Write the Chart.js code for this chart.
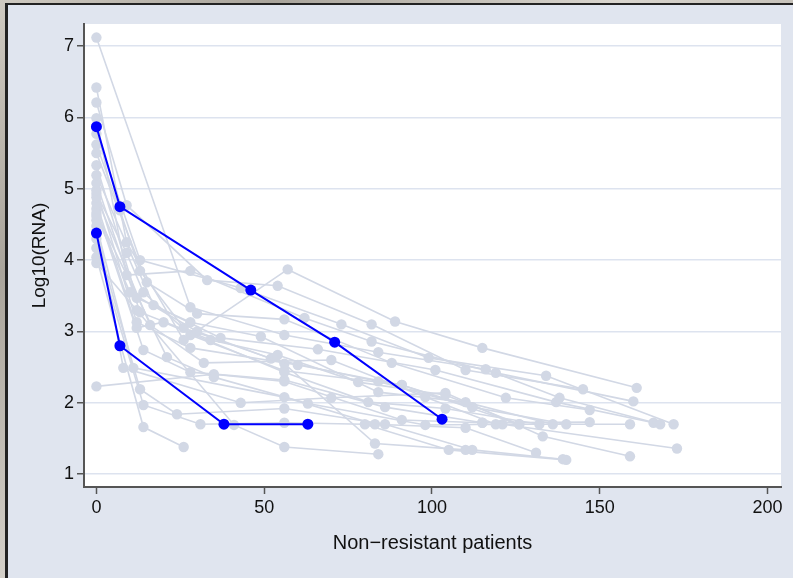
<!DOCTYPE html>
<html>
<head>
<meta charset="utf-8">
<script src="https://cdn.jsdelivr.net/npm/chart.js@4/dist/chart.umd.min.js"></script>
<style>
    html, body { margin: 0; padding: 0; }
    body {
        width: 793px; height: 578px; overflow: hidden; position: relative;
        background: linear-gradient(135deg, #cfcac1 0%, #a9a49b 20%, #d9d5ce 45%, #b5b0a7 70%, #d2cec6 100%);
    }
    #panel {
        position: absolute; left: 5px; top: 3px; right: 0; bottom: 0;
        background: #e0e5ef;
        border-left: 3px solid #222;
        border-top: 2px solid #222;
    }
    #chart { position: absolute; left: 0; top: 0; }
</style>
</head>
<body>
<div id="panel"></div>
<canvas id="chart" width="793" height="578"></canvas>
<script>
// tick labels
const xTicks = [0, 50, 100, 150, 200];
const yTicks = [1, 2, 3, 4, 5, 6, 7];

// grey patients: [days, log10 RNA]
const p01 = [[0, 7.12], [28, 3.34], [56, 2.95], [84, 2.71], [116, 2.47], [138, 2.07], [168, 1.70]];
const p02 = [[0, 6.42], [9, 4.25], [26, 2.88], [57, 3.87], [89, 3.14], [115, 2.77], [161, 2.21]];
const p03 = [[0, 6.21], [9, 4.77], [33, 3.72], [54, 3.64], [82, 3.10], [110, 2.46], [145, 2.19]];
const p04 = [[0, 5.99], [9, 3.79], [28, 3.85], [62, 3.19], [82, 2.86], [119, 2.42], [160, 2.02]];
const p05 = [[0, 5.77], [13, 4.00], [43, 3.61], [73, 3.10], [99, 2.63], [134, 2.38], [172, 1.70]];
const p06 = [[0, 5.50], [15, 3.69], [30, 3.25], [56, 3.17], [88, 2.56], [122, 2.07], [147, 1.90]];
const p07 = [[0, 5.33], [12, 3.47], [28, 3.13], [49, 2.93], [84, 2.15], [110, 2.01], [136, 1.70]];
const p08 = [[0, 5.19], [17, 3.37], [37, 2.91], [66, 2.75], [101, 2.46], [137, 2.01], [166, 1.72]];
const p09 = [[0, 5.08], [13, 3.27], [34, 2.88], [54, 2.67], [78, 2.29], [104, 2.11], [126, 1.70]];
const p10 = [[0, 4.98], [12, 3.13], [28, 2.77], [60, 2.53], [91, 2.25], [112, 1.94], [140, 1.70]];
const p11 = [[0, 4.88], [16, 3.09], [32, 2.56], [70, 2.60], [98, 2.08], [119, 1.70], [159, 1.70]];
const p12 = [[0, 4.80], [12, 3.05], [20, 3.13], [56, 2.43], [81, 2.01], [104, 1.92], [132, 1.70]];
const p13 = [[0, 4.72], [14, 2.74], [28, 2.43], [56, 2.32], [86, 1.94], [115, 1.72], [147, 1.73]];
const p14 = [[0, 4.66], [21, 2.64], [35, 2.36], [63, 1.99], [98, 1.69], [121, 1.70], [173, 1.36]];
const p15 = [[0, 4.56], [8, 2.49], [43, 2.00], [70, 2.07], [104, 2.14], [133, 1.53], [159, 1.25]];
const p16 = [[0, 4.48], [11, 2.49], [56, 2.08], [83, 1.70], [110, 1.65], [131, 1.30]];
const p17 = [[0, 4.30], [13, 2.19], [24, 1.84], [56, 1.92], [86, 1.70], [112, 1.34], [139, 1.21]];
const p18 = [[0, 4.17], [14, 1.97], [31, 1.70], [56, 1.72], [80, 1.70], [105, 1.34], [140, 1.20]];
const p19 = [[0, 4.04], [14, 1.66], [26, 1.38]];
const p20 = [[0, 3.96], [12, 3.30], [41, 1.69], [56, 1.38], [84, 1.28]];
const p21 = [[0, 2.23], [35, 2.40], [56, 2.30], [91, 1.76], [115, 1.72]];
const p22 = [[0, 4.62], [10, 3.55], [30, 3.00], [56, 2.55], [83, 1.43], [110, 1.34]];
const p23 = [[0, 5.62], [7, 4.70], [13, 3.85], [26, 3.05], [52, 2.62], [84, 2.30], [112, 1.94]];
const p24 = [[0, 4.93], [9, 4.10], [14, 3.55], [28, 2.95], [56, 2.45], [91, 2.25], [126, 1.70]];

// highlighted patients
const hiA = [[0, 5.87], [7, 4.75], [46, 3.58], [71, 2.85], [103, 1.77]];
const hiB = [[0, 4.38], [7, 2.80], [38, 1.70], [63, 1.70]];

const greyPatients = [p01, p02, p03, p04, p05, p06, p07, p08, p09, p10, p11, p12,
    p13, p14, p15, p16, p17, p18, p19, p20, p21, p22, p23, p24];
const bluePatients = [hiA, hiB];

const GREY = "#d2d8e5";
const BLUE = "#0000ff";
const FONT = "'Liberation Sans', Arial, sans-serif";

let toXY = pts => pts.map(p => ({x: p[0], y: p[1]}));

let datasets = [];
greyPatients.forEach(pts => {
    datasets.push({
        data: toXY(pts),
        showLine: true,
        borderColor: GREY,
        backgroundColor: GREY,
        borderWidth: 1.6,
        pointRadius: 5.2,
        pointBorderWidth: 0,
        order: 1
    });
});
bluePatients.forEach(pts => {
    datasets.push({
        data: toXY(pts),
        showLine: true,
        borderColor: BLUE,
        backgroundColor: BLUE,
        borderWidth: 2,
        pointRadius: 5.5,
        pointBorderWidth: 0,
        order: 0
    });
});

// white plot region
const plotBg = {
    id: "plotBg",
    beforeDraw(chart) {
        const {ctx, chartArea: a} = chart;
        ctx.save();
        ctx.fillStyle = "#ffffff";
        ctx.fillRect(a.left, a.top, a.right - a.left, a.bottom - a.top);
        ctx.restore();
    }
};

Chart.defaults.font.family = FONT;

new Chart(document.getElementById("chart"), {
    type: "scatter",
    data: {datasets: datasets},
    plugins: [plotBg],
    options: {
        responsive: false,
        animation: false,
        layout: {padding: {top: 24, right: 12, left: 0, bottom: 0}},
        plugins: {legend: {display: false}, tooltip: {enabled: false}},
        scales: {
            x: {
                type: "linear",
                min: -3.7,
                max: 204,
                afterBuildTicks: s => { s.ticks = xTicks.map(v => ({value: v})); },
                afterFit: s => { s.height = 91; s.paddingLeft = 0; s.paddingRight = 0; },
                ticks: {font: {size: 18}, color: "#111", padding: 3, maxRotation: 0, autoSkip: false},
                grid: {drawOnChartArea: false, drawTicks: true, tickLength: 7, tickColor: "#555", tickWidth: 1.5},
                border: {color: "#555", width: 2},
                title: {display: true, text: "Non\u2212resistant patients", color: "#111",
                    font: {size: 20}, padding: {top: 0, bottom: 23}}
            },
            y: {
                type: "linear",
                min: 0.82,
                max: 7.31,
                afterBuildTicks: s => { s.ticks = yTicks.map(v => ({value: v})); },
                afterFit: s => { s.width = 84; s.paddingTop = 0; s.paddingBottom = 0; },
                ticks: {font: {size: 18}, color: "#111", padding: 3},
                grid: {color: "#dde3ef", lineWidth: 1.5, drawTicks: true, tickLength: 7, tickColor: "#555", tickWidth: 1.5},
                border: {color: "#555", width: 2},
                title: {display: true, text: "Log10(RNA)", color: "#111",
                    font: {size: 19}, padding: {top: 28, bottom: 0}}
            }
        }
    }
});
</script>
</body>
</html>
